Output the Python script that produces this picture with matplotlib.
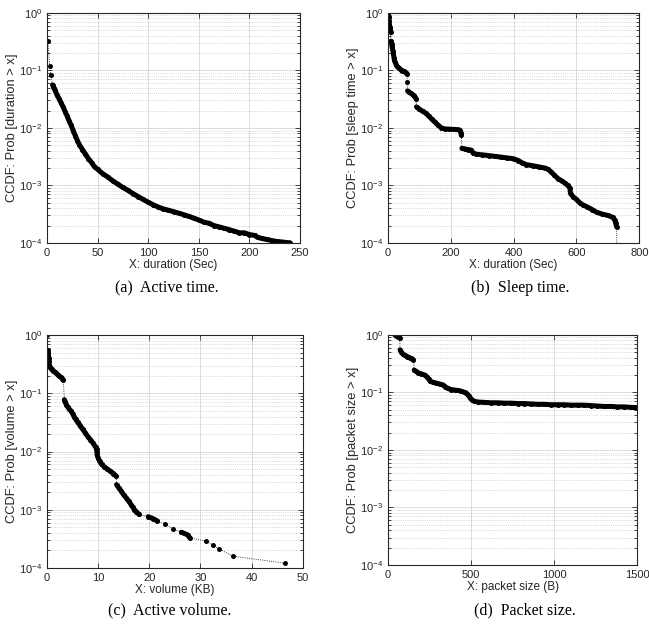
import numpy as np
import matplotlib.pyplot as plt
from matplotlib.ticker import LogLocator, MultipleLocator, NullFormatter

plt.rcParams['font.family'] = ['Liberation Sans', 'DejaVu Sans']
plt.rcParams['mathtext.fontset'] = 'custom'
plt.rcParams['mathtext.rm'] = 'Liberation Sans'
plt.rcParams['mathtext.it'] = 'Liberation Sans:italic'
plt.rcParams['mathtext.default'] = 'regular'

# (a) active time
active_x = [1, 2.6, 4, 5.5, 6.5, 8, 10, 12, 14, 16, 18, 20, 22, 24, 26, 28, 30, 32, 35, 38,
            41, 44, 47, 50, 55, 60, 65, 70, 75, 80, 85, 90, 95, 100, 105, 110, 115, 120,
            125, 130, 135, 140, 145, 150, 155, 160, 165, 170, 175, 180, 185, 190, 195, 200,
            205, 208, 212, 217, 222, 227, 232, 238, 240]
active_y = [0.32, 0.12, 0.082, 0.056, 0.05, 0.045, 0.037, 0.032, 0.027, 0.023, 0.019, 0.016,
            0.013, 0.011, 0.0088, 0.0073, 0.006, 0.0051, 0.0042, 0.0035, 0.0029, 0.0025,
            0.0021, 0.0019, 0.0016, 0.0014, 0.0012, 0.00105, 0.00092, 0.00082, 0.00072,
            0.00064, 0.00057, 0.00051, 0.00046, 0.00042, 0.00039, 0.00037, 0.00035,
            0.00033, 0.00031, 0.00029, 0.00027, 0.00025, 0.00023, 0.00022, 0.0002,
            0.00019, 0.00018, 0.00017, 0.00016, 0.00015, 0.00015, 0.00014, 0.000135,
            0.000125, 0.00012, 0.000115, 0.00011, 0.000106, 0.000104, 0.000101, 0.000101]

# (b) sleep time
sleep_x = [1, 2, 3, 4, 5, 6, 7, 8, 9, 11, 13, 15, 17, 19, 20, 22, 26, 30, 35, 40, 45, 50,
           55, 58, 60, 61, 62, 66, 72, 78, 84, 89, 90.5, 100, 110, 120, 130, 140, 150, 160,
           170, 180, 195, 210, 225, 230, 232, 233, 235, 245, 255, 265, 270, 280, 300, 320,
           340, 360, 380, 400, 415, 425, 440, 460, 480, 500, 510, 520, 530, 542, 553, 563,
           572, 579, 581, 590, 600, 610, 620, 635, 650, 665, 680, 700, 715, 722, 725, 728, 729]
sleep_y = [0.98, 0.85, 0.72, 0.62, 0.56, 0.52, 0.49, 0.46, 0.32, 0.29, 0.25, 0.22, 0.19,
           0.165, 0.15, 0.14, 0.125, 0.115, 0.108, 0.103, 0.099, 0.096, 0.093, 0.09, 0.088,
           0.062, 0.044, 0.042, 0.04, 0.038, 0.036, 0.032, 0.0232, 0.021, 0.0195, 0.018,
           0.016, 0.014, 0.0125, 0.011, 0.01, 0.0096, 0.0095, 0.0094, 0.0093, 0.009, 0.0082,
           0.0075, 0.0044, 0.0043, 0.0042, 0.0041, 0.0037, 0.0035, 0.0034, 0.0033, 0.0032,
           0.0031, 0.003, 0.0029, 0.0027, 0.0025, 0.0023, 0.0022, 0.0021, 0.002, 0.0019,
           0.0017, 0.0015, 0.0013, 0.0012, 0.0011, 0.001, 0.0009, 0.00072, 0.00063, 0.00057,
           0.0005, 0.00046, 0.00042, 0.00038, 0.00034, 0.00032, 0.0003, 0.00028, 0.00025,
           0.00022, 0.00019, 0.00005]

# (c) active volume
volume_x = [0.1, 0.15, 0.2, 0.25, 0.3, 0.35, 0.45, 0.6, 0.9, 1.2, 1.5, 1.8, 2.1, 2.4, 2.7,
            3.0, 3.2, 3.4, 3.6, 3.8, 4.1, 4.4, 4.7, 5.0, 5.3, 5.6, 6.0, 6.5, 7.0, 7.5, 8.0,
            8.5, 9.0, 9.5, 9.7, 9.75, 9.8, 10.0, 10.3, 10.7, 11.2, 11.8, 12.4, 13.0, 13.5,
            13.6, 14.0, 14.5, 15.0, 15.5, 16.0, 16.5, 16.8, 17.1, 17.5, 18.0,
            19.8, 20.8, 21.6, 23.0, 24.6, 26.3, 27.5, 27.9, 31.0, 32.4, 33.7, 36.3, 46.6]
volume_y = [1.0, 0.55, 0.5, 0.45, 0.4, 0.36, 0.31, 0.28, 0.26, 0.245, 0.235, 0.225, 0.21,
            0.2, 0.19, 0.18, 0.17, 0.078, 0.07, 0.064, 0.058, 0.053, 0.05, 0.045, 0.04,
            0.036, 0.032, 0.028, 0.024, 0.021, 0.018, 0.016, 0.014, 0.012, 0.011, 0.0098,
            0.0088, 0.0078, 0.0068, 0.006, 0.0055, 0.005, 0.0046, 0.0042, 0.0038, 0.0027,
            0.0024, 0.0021, 0.0018, 0.0016, 0.0014, 0.0012, 0.0011, 0.001, 0.00092, 0.00083,
            0.00076, 0.0007, 0.00064, 0.00058, 0.00047, 0.00041, 0.00037, 0.00033, 0.00029,
            0.00025, 0.00021, 0.00016, 0.00012]

# (d) packet size
packet_x = [40, 50, 60, 70, 72, 80, 90, 100, 115, 130, 145, 152, 157, 165, 180, 200, 220,
            235, 245, 255, 270, 290, 310, 330, 345, 360, 380, 400, 420, 440, 460, 475, 485,
            495, 505, 520, 540, 580, 620, 660, 700, 740, 780, 820, 860, 900, 940, 980, 1020,
            1060, 1100, 1140, 1180, 1220, 1260, 1300, 1340, 1380, 1420, 1460, 1500]
packet_y = [1.0, 0.97, 0.93, 0.88, 0.55, 0.5, 0.46, 0.44, 0.42, 0.4, 0.385, 0.37, 0.245,
            0.235, 0.22, 0.21, 0.2, 0.185, 0.17, 0.155, 0.15, 0.145, 0.14, 0.135, 0.125,
            0.117, 0.112, 0.11, 0.108, 0.105, 0.1, 0.095, 0.088, 0.08, 0.074, 0.07, 0.068,
            0.067, 0.066, 0.066, 0.065, 0.065, 0.064, 0.064, 0.063, 0.062, 0.062, 0.061,
            0.061, 0.061, 0.06, 0.06, 0.06, 0.059, 0.058, 0.057, 0.057, 0.056, 0.056, 0.055,
            0.054]

fig = plt.figure(figsize=(6.49, 6.41), dpi=100)

panels = [
    ([0.0724, 0.621, 0.390, 0.359], active_x, active_y, 250, 50,
     'X: duration (Sec)', 'CCDF: Prob [duration > x]'),
    ([0.598, 0.621, 0.387, 0.359], sleep_x, sleep_y, 800, 200,
     'X: duration (Sec)', 'CCDF: Prob [sleep time > x]'),
    ([0.0724, 0.114, 0.394, 0.363], volume_x, volume_y, 50, 10,
     'X: volume (KB)', 'CCDF: Prob [volume > x]'),
    ([0.598, 0.1186, 0.384, 0.359], packet_x, packet_y, 1500, 500,
     'X: packet size (B)', 'CCDF: Prob [packet size > x]'),
]

for rect, x, y, xmax, xstep, xlab, ylab in panels:
    ax = fig.add_axes(rect)
    ax.set_yscale('log')
    ax.set_xlim(0, xmax)
    ax.set_ylim(1e-4, 1)
    ax.xaxis.set_major_locator(MultipleLocator(xstep))
    ax.yaxis.set_major_locator(LogLocator(base=10, numticks=10))
    ax.yaxis.set_minor_locator(LogLocator(base=10, subs=np.arange(2, 10), numticks=10))
    ax.yaxis.set_minor_formatter(NullFormatter())
    ax.grid(True, which='major', color='#dcdcdc', lw=0.7, ls='-')
    ax.grid(True, which='minor', axis='y', color='#bdbdbd', lw=0.5, ls=':')
    ax.set_axisbelow(True)
    ax.tick_params(which='both', direction='in', top=True, right=True,
                   labelsize=8, colors='#262626', width=0.6)
    ax.tick_params(which='major', length=3.5)
    ax.tick_params(which='minor', length=2)
    for s in ax.spines.values():
        s.set_color('#262626')
        s.set_linewidth(0.8)
    ax.set_xlabel(xlab, fontsize=8.5, color='#262626', labelpad=1)
    ax.set_ylabel(ylab, fontsize=9.3, color='#262626', labelpad=1)

    xs = np.array(x, float)
    ys = np.array(y, float)
    ax.plot(xs, ys, ':', color='k', lw=0.6)
    # dense runs look like a solid thick band, gaps stay dotted
    pts = ax.transData.transform(np.column_stack([xs, ys]))
    d = np.hypot(*np.diff(pts, axis=0).T)
    breaks = np.where(d > 7.5)[0] + 1
    for sx, sy in zip(np.split(xs, breaks), np.split(ys, breaks)):
        if len(sx) > 1:
            ax.plot(sx, sy, '-', color='k', lw=3.6, solid_capstyle='round')
    ax.plot(xs, ys, 'o', color='k', ms=3.6, mew=0)

captions = [(167, 288, '(a)  Active time.'), (520, 288, '(b)  Sleep time.'),
            (170, 610, '(c)  Active volume.'), (525, 610, '(d)  Packet size.')]
for cx, cy, txt in captions:
    fig.text(cx / 649, 1 - cy / 641, txt, ha='center', va='center',
             family='Liberation Serif', fontsize=11.5)

fig.savefig('out.png', dpi=100)
